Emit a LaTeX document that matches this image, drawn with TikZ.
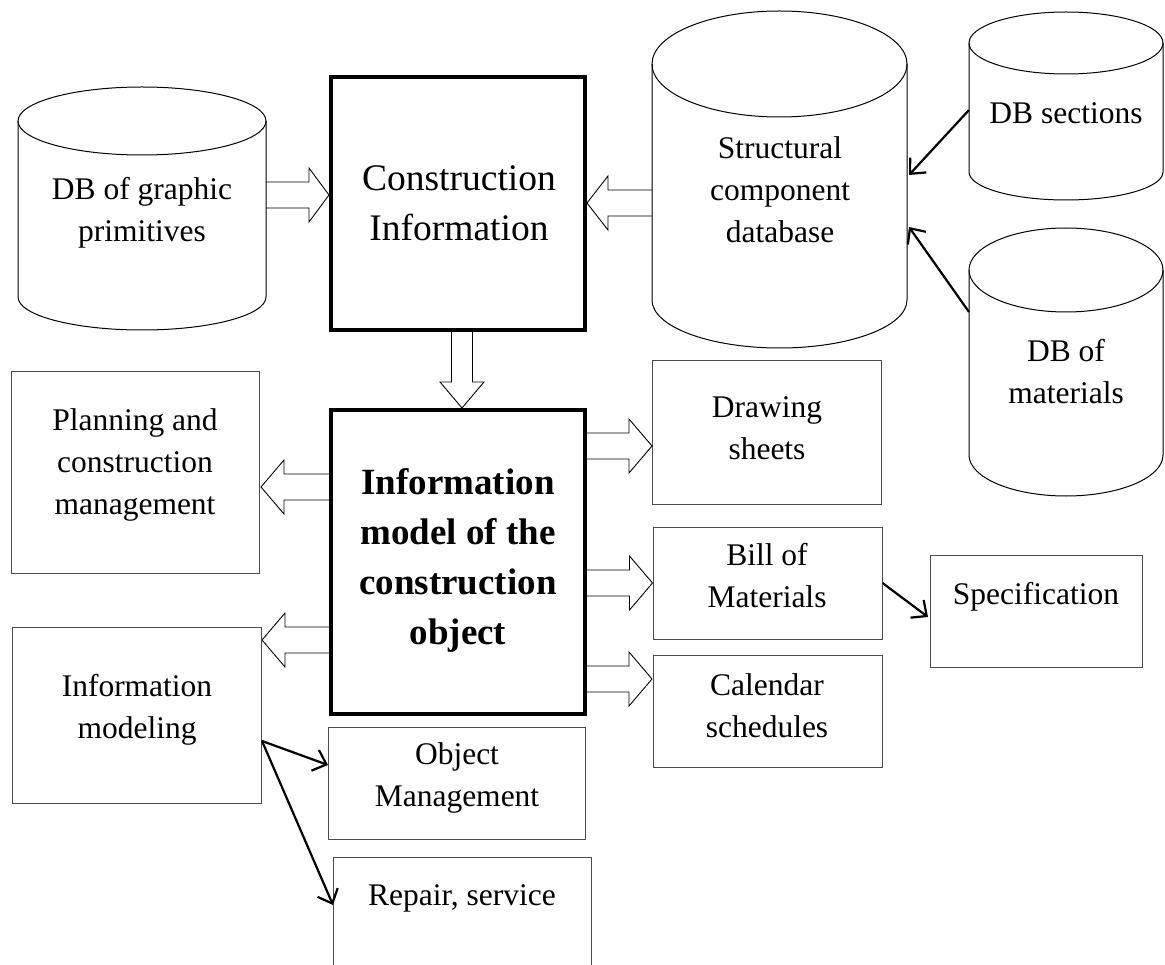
\documentclass[tikz,border=0pt]{standalone}
\usepackage{fontspec}
\setmainfont{Liberation Serif}
\usetikzlibrary{calc,arrows.meta}
\tikzset{
  box/.style={draw=black!70, line width=1pt, inner sep=0pt},
  thickbox/.style={draw=black, line width=4pt, inner sep=0pt},
  cyl/.style={draw=black, line width=1pt},
  hollow/.style={draw=black, line width=0.9pt, line join=miter},
  conn/.style={draw=black, line width=2.2pt, -{Straight Barb[length=12pt, width=22pt, line width=2.2pt]}},
  txt/.style={align=center, inner sep=0pt, font=\fontsize{31.5}{42}\selectfont},
  bigtxt/.style={align=center, inner sep=0pt, font=\fontsize{37.5}{50}\selectfont},
  boldtxt/.style={align=center, inner sep=0pt, font=\fontsize{37}{50}\selectfont\bfseries},
}
% cylinder outline: left, right, top centre y, top ry, bottom centre y, bottom ry
\newcommand{\dbcyl}[6]{%
  \draw[cyl] ({(#1+#2)/2},#3) ellipse [x radius={(#2-#1)/2}, y radius=#4];
  \draw[cyl] (#1,#3) -- (#1,#5)
    .. controls (#1,{#5+0.5523*#6}) and ({(#1+#2)/2-0.5523*(#2-#1)/2},{#5+#6}) .. ({(#1+#2)/2},{#5+#6})
    .. controls ({(#1+#2)/2+0.5523*(#2-#1)/2},{#5+#6}) and (#2,{#5+0.5523*#6}) .. (#2,#5) -- (#2,#3);
}
% hollow block arrow: tail, tip, shaft half width, head half width, head length
\newcommand{\blk}[5]{%
  \coordinate (bkA) at #1; \coordinate (bkB) at #2;
  \coordinate (bkH) at ($(bkB)!#5pt!(bkA)$);
  \draw[hollow] ($(bkA)!#3pt!90:(bkB)$) -- ($(bkH)!#3pt!-90:(bkA)$) -- ($(bkH)!#4pt!-90:(bkA)$)
    -- (bkB) -- ($(bkH)!#4pt!90:(bkA)$) -- ($(bkH)!#3pt!90:(bkA)$) -- ($(bkA)!#3pt!-90:(bkB)$);
}
\begin{document}
\begin{tikzpicture}[x=1pt,y=-1pt]
\useasboundingbox (0,0) rectangle (1165,965);

% cylinders
\dbcyl{18}{266}{121}{34}{297}{33}
\node[txt] (cyl1) at (142,213) {DB of graphic\\primitives};
\dbcyl{652}{907}{64}{53}{300}{48}
\node[txt] (struct) at (780,190) {Structural\\component\\database};
\dbcyl{969}{1163}{43}{31}{172}{28}
\node[txt] (dbsec) at (1066,113) {DB sections};
\dbcyl{969}{1163}{270}{42}{455}{41}
\node[txt] (dbmat) at (1066,372) {DB of\\materials};

% central boxes
\node[thickbox, minimum width=254pt, minimum height=253pt] (cinfo) at (458,203.5) {};
\node[bigtxt] (cinfot) at (459,203) {Construction\\Information};
\node[thickbox, minimum width=254pt, minimum height=304pt] (imodel) at (458,562) {};
\node[boldtxt] (imodelt) at (458,560) {Information\\model of the\\construction\\object};

% left boxes
\node[box, minimum width=248pt, minimum height=201pt] (planning) at (135,472.5) {};
\node[txt] (planningt) at (135,465) {Planning and\\construction\\management};
\node[box, minimum width=249pt, minimum height=176pt] (infomod) at (136.5,715) {};
\node[txt] (infomodt) at (137,710) {Information\\modeling};

% bottom boxes
\node[box, minimum width=257pt, minimum height=112pt] (objmgmt) at (456.5,783) {};
\node[txt] (objmgmtt) at (457,778) {Object\\Management};
\node[box, minimum width=258pt, minimum height=118pt] (repair) at (462,916) {};
\node[txt] (repairt) at (462,898) {Repair, service};

% right boxes
\node[box, minimum width=229pt, minimum height=143pt] (drawing) at (766.5,432.5) {};
\node[txt] (drawingt) at (767,428) {Drawing\\sheets};
\node[box, minimum width=229pt, minimum height=112pt] (bill) at (767.5,583) {};
\node[txt] (billt) at (767,576) {Bill of\\Materials};
\node[box, minimum width=229pt, minimum height=112pt] (calendar) at (767.5,711) {};
\node[txt] (calendart) at (767,706) {Calendar\\schedules};
\node[box, minimum width=212pt, minimum height=112pt] (spec) at (1036,611) {};
\node[txt] (spect) at (1036,597) {Specification};

% connector end points
\coordinate (g1) at (266,195);
\coordinate (s1) at (652,203);
\coordinate (dn) at (462,0);
\coordinate (r1) at (652,446);
\coordinate (r3) at (652,679);
\coordinate (pl1) at (261,487);
\coordinate (im1) at (262,640);
\coordinate (secA) at (969,110);
\coordinate (stA) at (909,175);
\coordinate (matA) at (969,312);
\coordinate (stB) at (909,227);
\coordinate (specA) at (928,617);
\coordinate (imA) at (262,741);
\coordinate (objA) at (328,765);
\coordinate (repA) at (333,905);

% hollow block arrows
\blk{(g1)}{(cinfo.west |- g1)}{13}{27}{20}
\blk{(s1)}{(cinfo.east |- s1)}{13}{27}{21}
\blk{(cinfo.south -| dn)}{(imodel.north -| dn)}{10.5}{22}{26}
\blk{(imodel.east |- r1)}{(r1)}{13}{27}{23}
\blk{(imodel.east |- bill.west)}{(bill.west)}{13}{27}{23}
\blk{(imodel.east |- r3)}{(r3)}{13}{27}{23}
\blk{(imodel.west |- pl1)}{(pl1)}{13}{27}{23}
\blk{(imodel.west |- im1)}{(im1)}{13}{27}{23}

% line arrows
\draw[conn] (secA) -- (stA);
\draw[conn] (matA) -- (stB);
\draw[conn] (bill.east) -- (specA);
\draw[conn] (imA) -- (objA);
\draw[conn] (imA) -- (repA);
\end{tikzpicture}
\end{document}
